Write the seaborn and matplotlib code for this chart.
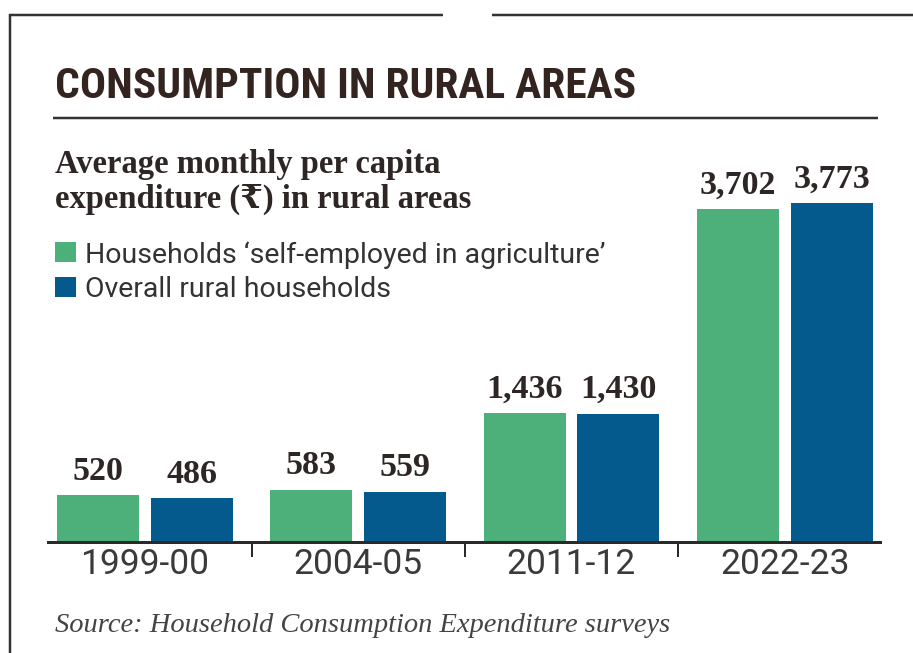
import matplotlib
matplotlib.use('Agg')
import matplotlib.pyplot as plt
from matplotlib import font_manager
from matplotlib.lines import Line2D
from matplotlib.patches import Rectangle
import seaborn as sns
import pandas as pd

# ---------------- data ----------------
periods = ['1999-00', '2004-05', '2011-12', '2022-23']
agri_values = [520, 583, 1436, 3702]
overall_values = [486, 559, 1430, 3773]
series_names = ['Households \u2018self-employed in agriculture\u2019', 'Overall rural households']
colors = ['#4DB07A', '#045A8D']

title_text = 'CONSUMPTION IN RURAL AREAS'
subtitle_lines = ['Average monthly per capita', 'expenditure (\u20b9) in rural areas']
source_text = 'Source: Household Consumption Expenditure surveys'

# ---------------- fonts ----------------
installed = {f.name for f in font_manager.fontManager.ttflist}

def pick(*names):
    for n in names:
        if n in installed:
            return n
    return 'DejaVu Sans'

sns.set_theme(style='white')
plt.rcParams['font.family'] = ['DejaVu Sans']

title_font = pick('Liberation Sans Narrow', 'Roboto Condensed', 'DejaVu Sans')
serif_font = pick('Liberation Serif', 'DejaVu Serif')
sans_font = pick('Roboto', 'Open Sans', 'DejaVu Sans')

W, H = 913, 653
fig = plt.figure(figsize=(W / 100, H / 100), dpi=100)
fig.patch.set_facecolor('white')


def fx(px):
    return px / W


def fy(py):
    return 1 - py / H


TXT = '#2E2624'
px2pt = 0.72

# ---------------- bars ----------------
df = pd.DataFrame({
    'period': periods * 2,
    'value': agri_values + overall_values,
    'series': [series_names[0]] * len(periods) + [series_names[1]] * len(periods),
})

ax_left, ax_right, ax_base, ax_top = 48, 880, 542, 150
ax = fig.add_axes([fx(ax_left), fy(ax_base), (ax_right - ax_left) / W, (ax_base - ax_top) / H])
sns.barplot(data=df, x='period', y='value', hue='series', hue_order=series_names,
            palette=colors, width=0.88, gap=0.125, saturation=1, legend=False,
            errorbar=None, ax=ax, linewidth=0)

ax.set_ylim(0, (ax_base - ax_top) * 3773 / 339)
ax.set_xlim(-0.455, 3.447)
ax.set_facecolor('none')
for s in ['top', 'left', 'right']:
    ax.spines[s].set_visible(False)
ax.spines['bottom'].set_linewidth(3 * px2pt)
ax.spines['bottom'].set_color('#2a2a2a')
ax.set_yticks([])
ax.set_xlabel('')
ax.set_ylabel('')
ax.grid(False)
ax.tick_params(axis='x', which='major', length=0, pad=4.5, labelsize=25.5, labelcolor='#3a3a3a')
for lab in ax.get_xticklabels():
    lab.set_fontfamily(sans_font)
    lab.set_fontweight('normal')
ax.set_xticks([0.5, 1.5, 2.5], minor=True)
ax.tick_params(axis='x', which='minor', length=15 * px2pt, width=2 * px2pt,
               color='#2a2a2a', direction='out', bottom=True)

for cont in ax.containers:
    ax.bar_label(cont, fmt='{:,.0f}', padding=6, fontsize=24.5, fontweight='bold',
                 family=[serif_font, 'DejaVu Serif'], color=TXT)

# ---------------- frame lines ----------------
lk = dict(transform=fig.transFigure, color='#333333', solid_capstyle='butt')
fig.add_artist(Line2D([fx(9), fx(443)], [fy(15), fy(15)], lw=2.5 * px2pt, **lk))
fig.add_artist(Line2D([fx(492), fx(913)], [fy(15), fy(15)], lw=2.5 * px2pt, **lk))
fig.add_artist(Line2D([fx(10), fx(10)], [fy(14), fy(653)], lw=2.5 * px2pt, **lk))
fig.add_artist(Line2D([fx(53), fx(878)], [fy(118), fy(118)], lw=2.5 * px2pt, **lk))

# ---------------- title ----------------
t = fig.text(fx(55), fy(98), title_text, fontsize=40, fontweight='bold',
             family=[title_font, 'DejaVu Sans'], fontstretch='condensed',
             color='#33241F', va='baseline', ha='left')
fig.canvas.draw()
r = fig.canvas.get_renderer()
bb = t.get_window_extent(r)
t.set_fontsize(40 * 580 / bb.width)

# ---------------- subtitle ----------------
fig.text(fx(55), fy(173), subtitle_lines[0], fontsize=23.5, fontweight='bold',
         family=[serif_font, 'DejaVu Serif', 'DejaVu Sans'], color=TXT, va='baseline')
fig.text(fx(55), fy(208), subtitle_lines[1], fontsize=23.5, fontweight='bold',
         family=[serif_font, 'DejaVu Serif', 'DejaVu Sans'], color=TXT, va='baseline')

# ---------------- legend ----------------
for i, (name, c) in enumerate(zip(series_names, colors)):
    top = 242 + i * 35
    fig.add_artist(Rectangle((fx(55), fy(top + 20)), 21 / W, 20 / H,
                             transform=fig.transFigure, color=c, lw=0))
    fig.text(fx(85), fy(263 + i * 34), name, fontsize=20.5, fontweight='normal',
             family=[sans_font, 'DejaVu Sans'], color='#333333', va='baseline')

# ---------------- source ----------------
fig.text(fx(55), fy(632), source_text, fontsize=20.5, style='italic',
         family=[serif_font, 'DejaVu Serif'], color='#444444', va='baseline')

fig.savefig('out.png', dpi=100, facecolor='white')
